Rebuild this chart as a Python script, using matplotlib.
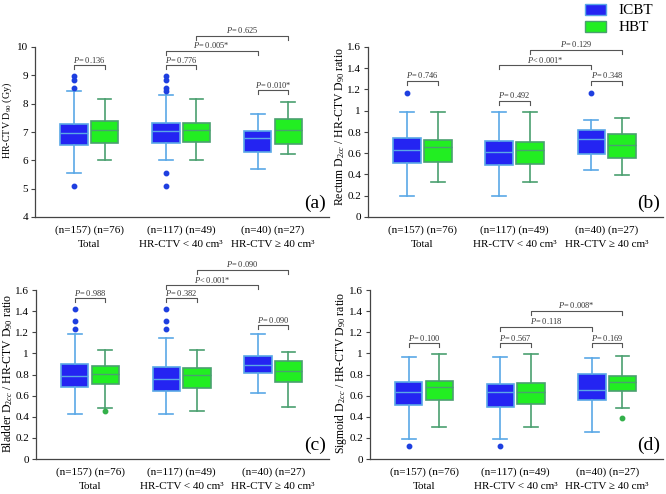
import numpy as np
import matplotlib.pyplot as plt
from matplotlib.patches import Patch

plt.rcParams['font.family'] = 'Liberation Serif'
plt.rcParams['mathtext.fontset'] = 'custom'
plt.rcParams['mathtext.rm'] = 'Liberation Serif'
plt.rcParams['mathtext.it'] = 'Liberation Serif:italic'

groups = ['Total', 'HR-CTV < 40 cm\u00b3', 'HR-CTV \u2265 40 cm\u00b3']
counts = ['(n=157) (n=76)', '(n=117) (n=49)', '(n=40) (n=27)']

# box stats per group: [whisker low, Q1, median, Q3, whisker high]
# (a) HR-CTV D90
a_icbt = [[5.57, 6.53, 6.98, 7.29, 8.45], [6.00, 6.62, 7.02, 7.33, 8.32], [5.71, 6.29, 6.79, 7.02, 7.65]]
a_hbt = [[6.01, 6.61, 7.06, 7.38, 8.18], [6.01, 6.65, 7.06, 7.32, 8.18], [6.24, 6.59, 7.08, 7.47, 8.06]]
a_icbt_out = [[5.08, 8.56, 8.85, 8.96], [5.08, 5.56, 8.45, 8.56, 8.85, 8.96], []]
a_hbt_out = [[], [], []]
a_p = ['= 0.136', '= 0.776', '= 0.010*', '= 0.005*', '= 0.625']

# (b) rectum
b_icbt = [[0.195, 0.508, 0.630, 0.747, 0.988], [0.195, 0.486, 0.612, 0.712, 0.988], [0.442, 0.593, 0.734, 0.816, 0.916]]
b_hbt = [[0.333, 0.515, 0.659, 0.725, 0.988], [0.333, 0.496, 0.634, 0.703, 0.988], [0.392, 0.555, 0.681, 0.778, 0.932]]
b_icbt_out = [[1.167], [], [1.167]]
b_hbt_out = [[], [], []]
b_p = ['= 0.746', '= 0.492', '= 0.348', '< 0.001*', '= 0.129']

# (c) bladder
c_icbt = [[0.426, 0.685, 0.789, 0.896, 1.180], [0.426, 0.647, 0.757, 0.874, 1.142], [0.628, 0.811, 0.893, 0.972, 1.180]]
c_hbt = [[0.480, 0.710, 0.808, 0.880, 1.032], [0.454, 0.675, 0.792, 0.861, 1.032], [0.492, 0.726, 0.836, 0.928, 1.016]]
c_icbt_out = [[1.228, 1.310, 1.420], [1.228, 1.310, 1.420], []]
c_hbt_out = [[0.454], [], []]
c_p = ['= 0.988', '= 0.382', '= 0.090', '< 0.001*', '= 0.090']

# (d) sigmoid
d_icbt = [[0.186, 0.511, 0.637, 0.726, 0.969], [0.186, 0.495, 0.634, 0.710, 0.969], [0.259, 0.559, 0.653, 0.802, 0.953]]
d_hbt = [[0.303, 0.559, 0.682, 0.742, 0.991], [0.303, 0.521, 0.637, 0.723, 0.991], [0.480, 0.641, 0.729, 0.786, 0.975]]
d_icbt_out = [[0.126], [0.126], []]
d_hbt_out = [[], [], [0.391]]
d_p = ['= 0.100', '= 0.567', '= 0.169', '= 0.118', '= 0.008*']

ylabels = ['HR-CTV D$_{90}$ (Gy)',
           'Rectum D$_{2cc}$ / HR-CTV D$_{90}$ ratio',
           'Bladder D$_{2cc}$ / HR-CTV D$_{90}$ ratio',
           'Sigmoid D$_{2cc}$ / HR-CTV D$_{90}$ ratio']

blue_fill, blue_line, blue_dot = '#2424f2', '#5aa8e6', '#1e3fe0'
green_fill, green_line, green_dot = '#22ee22', '#4aa070', '#33b04a'


def stats(rows, outs):
    res = []
    for r, o in zip(rows, outs):
        res.append(dict(whislo=r[0], q1=r[1], med=r[2], q3=r[3], whishi=r[4], fliers=o))
    return res


def draw_box(ax, rows, outs, pos, fill, line, dot):
    ax.bxp(stats(rows, outs), positions=pos, widths=0.3, patch_artist=True,
           boxprops=dict(facecolor=fill, edgecolor=line, linewidth=1.2),
           medianprops=dict(color=line, linewidth=1),
           whiskerprops=dict(color=line, linewidth=1.2),
           capprops=dict(color=line, linewidth=1.2),
           flierprops=dict(marker='o', markersize=3.2, markerfacecolor=dot,
                           markeredgecolor=dot))


def bracket(ax, x1, x2, y, leg, txt):
    ax.plot([x1, x1, x2, x2], [y - leg, y, y, y - leg], color='#555555',
            lw=0.8, clip_on=False)
    ax.text((x1 + x2) / 2, y + leg * 0.2, '$P$' + txt, ha='center', va='bottom',
            fontsize=6, color='#333333', clip_on=False)


fig = plt.figure(figsize=(6.66, 4.94), dpi=100)
rects = [(35, 47, 329, 217), (368, 47, 663, 217), (36, 290, 329, 459), (370, 290, 663, 459)]
label_size = [7.2, 8.5, 8.5, 8.5]
label_y = [0.57, 0.53, 0.51, 0.51]
panels = [(a_icbt, a_hbt, a_icbt_out, a_hbt_out, a_p, (4, 10), [4, 5, 6, 7, 8, 9, 10],
           [9.35, 9.35, 8.47, 9.86, 10.4], 0.14, '(a)'),
          (b_icbt, b_hbt, b_icbt_out, b_hbt_out, b_p, (0, 1.6), [0, 0.2, 0.4, 0.6, 0.8, 1, 1.2, 1.4, 1.6],
           [1.283, 1.089, 1.283, 1.427, 1.572], 0.038, '(b)'),
          (c_icbt, c_hbt, c_icbt_out, c_hbt_out, c_p, (0, 1.6), [0, 0.2, 0.4, 0.6, 0.8, 1, 1.2, 1.4, 1.6],
           [1.521, 1.521, 1.265, 1.644, 1.79], 0.038, '(c)'),
          (d_icbt, d_hbt, d_icbt_out, d_hbt_out, d_p, (0, 1.6), [0, 0.2, 0.4, 0.6, 0.8, 1, 1.2, 1.4, 1.6],
           [1.095, 1.095, 1.095, 1.253, 1.404], 0.038, '(d)')]

W, H = 666, 494
g = np.arange(1, 4)
off = 0.167
for k, (r, p) in enumerate(zip(rects, panels)):
    icbt, hbt, iout, hout, pv, ylim, yt, by, leg, tag = p
    ax = fig.add_axes([r[0] / W, 1 - r[3] / H, (r[2] - r[0]) / W, (r[3] - r[1]) / H])
    draw_box(ax, icbt, iout, g - off, blue_fill, blue_line, blue_dot)
    draw_box(ax, hbt, hout, g + off, green_fill, green_line, green_dot)
    ax.set_xlim(0.41, 3.61)
    ax.set_ylim(*ylim)
    ax.set_yticks(yt)
    ax.set_yticklabels([('%g' % v) for v in yt], fontsize=8)
    ax.set_xticks(g)
    ax.set_xticklabels([c + '\n' + n for c, n in zip(counts, groups)], fontsize=8,
                       linespacing=1.75)
    ax.tick_params(axis='x', length=0, pad=6)
    ax.tick_params(axis='y', length=3, width=0.8, pad=2, color='#444444')
    ax.set_ylabel(ylabels[k], fontsize=label_size[k])
    # label edge sits ~20 px left of the spine
    ax.yaxis.set_label_coords(-21 / (r[2] - r[0]), label_y[k])
    for s in ['top', 'right']:
        ax.spines[s].set_visible(False)
    for s in ['left', 'bottom']:
        ax.spines[s].set_color('#444444')
        ax.spines[s].set_linewidth(0.9)
    for i in range(3):
        bracket(ax, g[i] - off, g[i] + off, by[i], leg, pv[i])
    bracket(ax, g[1] - off, g[2] - off, by[3], leg, pv[3])
    bracket(ax, g[1] + off, g[2] + off, by[4], leg, pv[4])
    ax.text(0.99, 0.03, tag, transform=ax.transAxes, ha='right', va='bottom', fontsize=14)

handles = [Patch(facecolor=blue_fill, edgecolor=blue_line, label='ICBT'),
           Patch(facecolor=green_fill, edgecolor=green_line, label='HBT')]
fig.legend(handles=handles, loc='upper left', bbox_to_anchor=(583 / W, 1 - 2 / H),
           frameon=False, fontsize=11, handlelength=1.4, handleheight=0.75,
           handletextpad=0.8, labelspacing=0.2, borderpad=0.1, borderaxespad=0)

fig.savefig('out.png', dpi=100)
